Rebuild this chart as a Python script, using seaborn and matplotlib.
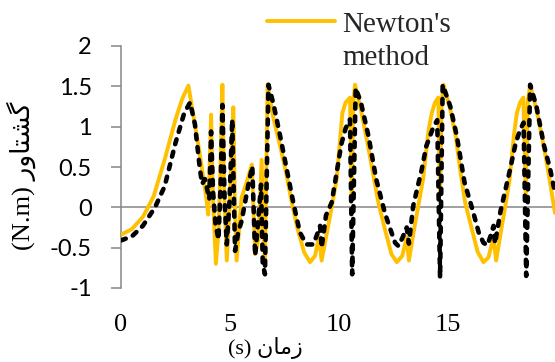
import matplotlib
matplotlib.use("Agg")
import matplotlib.pyplot as plt
import pandas as pd
import seaborn as sns
from matplotlib.lines import Line2D

# ---- data ----
newton_t = [0, 0.5, 1.0, 1.24, 1.5, 2.0, 2.5, 2.8, 3.09, 3.3,
            3.6, 3.9, 4.0, 4.13, 4.22, 4.35, 4.47, 4.56, 4.65, 4.73,
            4.85, 4.98, 5.08, 5.15, 5.22, 5.3, 5.53, 5.75, 6.0, 6.15,
            6.3, 6.45, 6.52, 6.6, 6.72, 7.0, 7.3, 7.6, 7.83, 8.1,
            8.4, 8.67, 8.9, 9.08, 9.2, 9.45, 9.66, 9.89, 10.15, 10.3,
            10.5, 10.58, 10.65, 10.73, 11.0, 11.3, 11.55, 11.8, 12.1, 12.4,
            12.65, 12.9, 13.1, 13.2, 13.42, 13.62, 13.85, 14.1, 14.25, 14.4,
            14.55, 14.63, 14.7, 14.79, 15.1, 15.35, 15.55, 15.78, 16.05, 16.35,
            16.62, 16.85, 17.08, 17.2, 17.42, 17.61, 17.82, 18.02, 18.15, 18.3,
            18.45, 18.56, 18.65, 18.76, 19.05, 19.3, 19.55, 19.9]
newton_v = [-0.34, -0.27, -0.12, 0.0, 0.14, 0.59, 1.09, 1.34, 1.51, 1.17,
            0.68, 0.14, -0.09, 1.15, 0.1, -0.7, -0.3, 0.5, 1.52, 0.2,
            -0.66, 0.0, 0.8, 1.24, 0.1, -0.66, 0.12, 0.3, 0.53, -0.58,
            -0.4, 0.59, -0.3, -0.68, 1.52, 1.09, 0.76, 0.39, 0.06, -0.27,
            -0.56, -0.68, -0.6, -0.36, -0.66, -0.3, 0.0, 0.35, 1.17, 1.3,
            1.36, 0.15, 1.3, 1.52, 1.21, 0.8, 0.43, 0.06, -0.27, -0.58,
            -0.68, -0.6, -0.37, -0.66, -0.3, 0.0, 0.35, 0.95, 1.17, 1.3,
            1.36, 0.15, 1.3, 1.52, 1.21, 0.88, 0.47, 0.06, -0.23, -0.55,
            -0.68, -0.62, -0.37, -0.66, -0.3, 0.0, 0.35, 0.9, 1.17, 1.3,
            1.36, 0.15, 1.3, 1.52, 1.21, 0.88, 0.51, -0.07]

other_t = [0, 0.5, 1.0, 1.56, 2.0, 2.5, 2.9, 3.17, 3.39, 3.62,
           3.72, 3.85, 3.97, 4.05, 4.13, 4.22, 4.33, 4.47, 4.57, 4.65,
           4.75, 4.85, 4.98, 5.1, 5.23, 5.38, 5.53, 5.84, 6.02, 6.15,
           6.28, 6.42, 6.5, 6.6, 6.76, 7.0, 7.3, 7.6, 7.9, 8.2,
           8.5, 8.82, 9.0, 9.13, 9.2, 9.4, 9.66, 9.9, 10.1, 10.3,
           10.5, 10.6, 10.76, 11.0, 11.35, 11.7, 12.1, 12.4, 12.57, 12.72,
           12.9, 13.1, 13.2, 13.4, 13.79, 14.0, 14.33, 14.5, 14.63, 14.75,
           15.1, 15.4, 15.75, 16.16, 16.4, 16.62, 16.8, 16.95, 17.08, 17.15,
           17.4, 17.84, 18.1, 18.3, 18.46, 18.58, 18.76, 19.05, 19.4, 19.68,
           19.9]
other_v = [-0.41, -0.36, -0.23, 0.0, 0.26, 0.8, 1.17, 1.3, 1.03, 0.47,
           0.29, 0.35, 0.2, 0.1, 0.94, 0.2, -0.2, -0.4, 0.3, 1.27,
           0.1, -0.46, 0.1, 1.09, -0.54, -0.3, -0.17, 0.28, 0.51, -0.6,
           -0.2, 0.28, -0.7, -0.83, 1.52, 1.27, 0.88, 0.47, 0.06, -0.31,
           -0.46, -0.46, -0.33, -0.23, -0.5, -0.1, 0.06, 0.45, 0.78, 0.98,
           1.09, -0.83, 1.48, 1.3, 0.88, 0.35, -0.07, -0.31, -0.44, -0.48,
           -0.38, -0.25, -0.45, 0.02, 0.47, 0.76, 1.0, 1.08, -0.87, 1.52,
           1.25, 0.88, 0.31, -0.07, -0.31, -0.44, -0.47, -0.35, -0.23, -0.45,
           -0.05, 0.47, 0.8, 0.96, 1.05, -0.85, 1.52, 1.25, 0.76, 0.47,
           0.18]

x_ticks = [0, 5, 10, 15]
x_tick_labels = ["0", "5", "10", "15"]
y_ticks = [-1, -0.5, 0, 0.5, 1, 1.5, 2]
y_tick_labels = ["-1", "-0.5", "0", "0.5", "1", "1.5", "2"]

# Persian labels (shaped glyphs in visual order so they display correctly)
x_label = "(s) \uFEE5\uFE8E\uFEE3\uFEAF"                 # زمان (s)
y_label = "(N.m) \uFEAD\uFEED\uFE8E\uFE98\uFEB8\uFB94"   # گشتاور (N.m)

# ---- figure ----
sns.set_style("white")
plt.rcParams['font.family'] = ['Liberation Serif', 'DejaVu Sans']

W, H = 555, 362
fig = plt.figure(figsize=(W / 100, H / 100), dpi=100)
ax = fig.add_axes([121 / W, 1 - 288 / H, 434 / W, 242 / H])

df_n = pd.DataFrame({"t": newton_t, "v": newton_v})
df_o = pd.DataFrame({"t": other_t, "v": other_v})

orange = "#FFC000"
gray = "#868686"

ax.axhline(0, color=gray, lw=1.1, zorder=1)

sns.lineplot(data=df_n, x="t", y="v", ax=ax, color=orange, linewidth=2.8,
             estimator=None, sort=False, legend=False, zorder=3)
sns.lineplot(data=df_o, x="t", y="v", ax=ax, color="black", linewidth=3.3,
             estimator=None, sort=False, legend=False, zorder=4)
black_line = ax.lines[-1]
black_line.set_dashes((1.1, 1.7))
black_line.set_dash_capstyle("round")
black_line.set_dash_joinstyle("round")
ax.lines[-2].set_solid_joinstyle("round")

ax.set_xlim(0, 19.9)
ax.set_ylim(-1, 2)

for s in ["top", "right", "bottom"]:
    ax.spines[s].set_visible(False)
ax.spines["left"].set_color(gray)
ax.spines["left"].set_linewidth(1.1)

ax.set_yticks(y_ticks)
ax.set_yticklabels(y_tick_labels, fontfamily="Lato", fontsize=17)
ax.set_xticks(x_ticks)
ax.set_xticklabels(x_tick_labels, fontsize=19)
ax.tick_params(axis="y", left=True, length=7, width=1.1, color=gray,
               pad=14, direction="out", labelcolor="black")
ax.tick_params(axis="x", bottom=False, length=0, pad=19, labelcolor="black")

ax.set_xlabel(x_label, fontsize=16, color="black")
ax.xaxis.set_label_coords((265 - 121) / 434, (288 - 337) / 242)
ax.set_ylabel(y_label, fontsize=19, color="black")
ax.yaxis.set_label_coords((36 - 121) / 434, (288 - 176) / 242)

# legend (only the Newton's method entry is visible in the reference)
fig.add_artist(Line2D([267 / W, 335 / W], [1 - 21 / H, 1 - 21 / H],
                      color=orange, lw=2.8, solid_capstyle="round",
                      transform=fig.transFigure))
fig.text(342 / W, 1 - 32 / H, "Newton's", fontsize=21, va="baseline", ha="left")
fig.text(342 / W, 1 - 65 / H, "method", fontsize=21, va="baseline", ha="left")

fig.savefig("out.png", dpi=100)
